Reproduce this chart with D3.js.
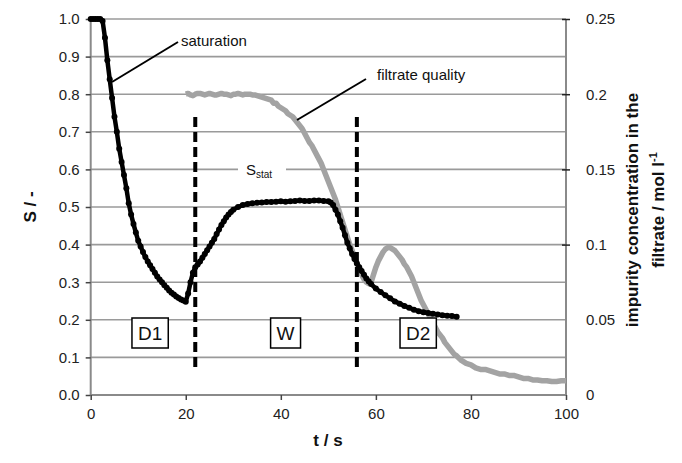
<!DOCTYPE html>
<html><head><meta charset="utf-8">
<script src="https://cdn.jsdelivr.net/npm/d3@7"></script>
<style>
html,body{margin:0;padding:0;background:#fff;}
svg{display:block;font-family:"Liberation Sans",Arial,sans-serif;}
</style></head>
<body><svg id="c" width="682" height="463"></svg>
<script>
// ---- data ----
const satT = [0,0.5,1,1.5,2,2.5,3,3.5,4,4.5,5,5.5,6,6.5,7,7.5,8,8.5,9,9.5,10,10.5,11,11.5,12,12.5,13,13.5,14,14.5,15,15.5,16,16.5,17,17.5,18,18.5,19,19.5,20,20.5,21,21.5,22,22.5,23,23.5,24,24.5,25,25.5,26,26.5,27,27.5,28,28.5,29,29.5,30,31,32,33,34,35,36,37,38,39,40,41,42,43,44,45,46,47,48,49,50,50.5,51,51.5,52,52.5,53,53.5,54,54.5,55,55.5,56,56.5,57,57.5,58,58.5,59,60,61,62,63,64,65,66,67,68,69,70,71,72,73,74,75,76,77];
const satS = [1.0,1.0,1.0,1.0,1.0,0.995,0.95,0.89,0.84,0.79,0.74,0.70,0.655,0.62,0.585,0.55,0.51,0.48,0.455,0.432,0.41,0.395,0.38,0.367,0.355,0.345,0.335,0.325,0.315,0.307,0.30,0.292,0.285,0.278,0.272,0.267,0.262,0.258,0.254,0.251,0.248,0.27,0.30,0.325,0.34,0.347,0.355,0.365,0.375,0.385,0.395,0.405,0.415,0.428,0.44,0.452,0.462,0.472,0.48,0.487,0.493,0.50,0.505,0.508,0.51,0.511,0.512,0.513,0.513,0.514,0.515,0.514,0.515,0.516,0.517,0.516,0.516,0.517,0.517,0.516,0.515,0.512,0.505,0.493,0.48,0.462,0.445,0.425,0.405,0.39,0.375,0.362,0.35,0.34,0.33,0.32,0.31,0.302,0.295,0.283,0.274,0.265,0.257,0.249,0.243,0.237,0.232,0.227,0.223,0.220,0.218,0.216,0.214,0.212,0.211,0.210,0.208];

const impT = [20,20.5,21,21.5,22,22.5,23,23.5,24,24.5,25,25.5,26,26.5,27,27.5,28,28.5,29,29.5,30,30.5,31,31.5,32,32.5,33,33.5,34,34.5,35,35.5,36,36.5,37,37.5,38,38.5,39,39.5,40,40.5,41,41.5,42,42.5,43,43.5,44,44.5,45,45.5,46,46.5,47,47.5,48,48.5,49,49.5,50,50.5,51,51.5,52,52.5,53,53.5,54,54.5,55,55.5,56,56.5,57,57.5,58,58.5,59,59.5,60,60.5,61,61.5,62,62.5,63,63.5,64,64.5,65,65.5,66,66.5,67,67.5,68,68.5,69,69.5,70,70.5,71,71.5,72,72.5,73,73.5,74,74.5,75,75.5,76,76.5,77,78,79,80,81,82,83,84,85,86,87,88,89,90,91,92,93,94,95,96,97,98,99,100];
const impC = [0.200,0.2005,0.1995,0.199,0.200,0.2005,0.2005,0.200,0.1995,0.2,0.2005,0.200,0.1995,0.1995,0.200,0.2005,0.2,0.2,0.1995,0.199,0.200,0.200,0.2005,0.200,0.1995,0.200,0.2,0.2,0.1995,0.1995,0.199,0.1985,0.198,0.1975,0.197,0.1965,0.196,0.194,0.194,0.192,0.191,0.190,0.189,0.187,0.186,0.185,0.183,0.181,0.179,0.177,0.174,0.171,0.168,0.166,0.163,0.160,0.157,0.154,0.150,0.146,0.142,0.138,0.134,0.130,0.125,0.120,0.115,0.110,0.105,0.100,0.096,0.092,0.088,0.084,0.080,0.077,0.075,0.074,0.075,0.080,0.085,0.089,0.092,0.095,0.097,0.098,0.098,0.097,0.096,0.094,0.092,0.090,0.087,0.085,0.082,0.079,0.075,0.071,0.067,0.063,0.060,0.057,0.054,0.051,0.048,0.045,0.042,0.040,0.038,0.035,0.033,0.031,0.029,0.027,0.026,0.023,0.021,0.020,0.018,0.017,0.017,0.016,0.015,0.014,0.014,0.013,0.013,0.012,0.011,0.011,0.010,0.010,0.0095,0.0095,0.009,0.009,0.0095,0.0095];

const leftTicks = [0,0.1,0.2,0.3,0.4,0.5,0.6,0.7,0.8,0.9,1.0];
const rightTicks = [0,0.05,0.1,0.15,0.2,0.25];
const xTicks = [0,20,40,60,80,100];
const phaseLines = [22,56];
const phaseBoxes = [{label:"D1",t:12.5},{label:"W",t:41},{label:"D2",t:68.9}];

// ---- layout ----
const svg = d3.select("#c");
const L = 90.7, R = 566, T = 19, B = 395;
const x = d3.scaleLinear().domain([0,100]).range([L,R]);
const y = d3.scaleLinear().domain([0,1]).range([B,T]);
const y2 = d3.scaleLinear().domain([0,0.25]).range([B,T]);
const gridC = "#9a9a9a", axisC = "#8a8a8a";

// gridlines
svg.append("g").selectAll("line").data(leftTicks.filter(d=>d>0)).join("line")
  .attr("x1",L).attr("x2",R).attr("y1",d=>y(d)).attr("y2",d=>y(d))
  .attr("stroke",gridC).attr("stroke-width",1.6);

// S_stat label gap
svg.append("rect").attr("x",238).attr("y",y(0.6)-3).attr("width",48).attr("height",6).attr("fill","#fff");
const st = svg.append("text").attr("x",246).attr("y",y(0.6)+6).attr("font-size",15).attr("fill","#111");
st.append("tspan").text("S");
st.append("tspan").attr("font-size",10).attr("dy",3).text("stat");

// axes
const gl = svg.append("g").attr("transform",`translate(${L},0)`)
  .call(d3.axisLeft(y).tickValues(leftTicks).tickFormat(d3.format(".1f")).tickSize(5).tickPadding(6));
const gb = svg.append("g").attr("transform",`translate(0,${B})`)
  .call(d3.axisBottom(x).tickValues(xTicks).tickFormat(d3.format("d")).tickSize(5).tickPadding(8));
const gr = svg.append("g").attr("transform",`translate(${R},0)`)
  .call(d3.axisRight(y2).tickValues(rightTicks).tickFormat(d=>d===0?"0":String(d)).tickSize(4).tickPadding(16));
[gl,gb,gr].forEach(g=>{
  g.select(".domain").attr("stroke",axisC).attr("stroke-width",2);
  g.selectAll(".tick line").attr("stroke","#444").attr("stroke-width",1.5);
  g.selectAll(".tick text").attr("font-size",15).attr("fill","#222").attr("font-family","Liberation Sans, Arial, sans-serif");
});
gl.select(".domain").attr("d",`M0,${B}V${T}`);
gb.select(".domain").attr("d",`M${L},0H${R}`);
gr.select(".domain").attr("d",`M0,${B}V${T}`);
gr.selectAll(".tick line").attr("x1",-4).attr("x2",4).attr("stroke","#222");
gr.selectAll(".tick").filter(d=>d===0||d===0.05).select("line").remove();

// filtrate quality (gray)
const impData = impT.map((t,i)=>[t,impC[i]]);
svg.append("path").datum(impData)
  .attr("d",d3.line().x(d=>x(d[0])).y(d=>y2(d[1])))
  .attr("fill","none").attr("stroke","#a3a3a3").attr("stroke-width",5.5).attr("stroke-linejoin","round");

// saturation (black)
const satData = satT.map((t,i)=>[t,satS[i]]);
svg.append("path").datum(satData)
  .attr("d",d3.line().x(d=>x(d[0])).y(d=>y(d[1])))
  .attr("fill","none").attr("stroke","#000").attr("stroke-width",4.5).attr("stroke-linejoin","round");
svg.append("g").selectAll("circle").data(satData).join("circle")
  .attr("cx",d=>x(d[0])).attr("cy",d=>y(d[1])).attr("r",3).attr("fill","#000");

// phase dashed lines
svg.append("g").selectAll("line").data(phaseLines).join("line")
  .attr("x1",d=>x(d)).attr("x2",d=>x(d)).attr("y1",117).attr("y2",367)
  .attr("stroke","#000").attr("stroke-width",4).attr("stroke-dasharray","10,5");

// phase boxes
const pb = svg.append("g").selectAll("g").data(phaseBoxes).join("g");
pb.each(function(d){
  const g = d3.select(this);
  const t = g.append("text").attr("x",x(d.t)).attr("y",340).attr("text-anchor","middle")
    .attr("font-size",19).attr("fill","#111").text(d.label);
  const w = t.node().getComputedTextLength()+12;
  g.insert("rect","text").attr("x",x(d.t)-w/2).attr("y",318).attr("width",w).attr("height",30)
    .attr("fill","#fff").attr("stroke","#000").attr("stroke-width",1.5);
});

// annotations
svg.append("line").attr("x1",112).attr("y1",82).attr("x2",178).attr("y2",42).attr("stroke","#000").attr("stroke-width",2);
svg.append("text").attr("x",181).attr("y",46).attr("font-size",15).attr("fill","#111").text("saturation");
svg.append("line").attr("x1",297).attr("y1",120).attr("x2",366).attr("y2",79).attr("stroke","#000").attr("stroke-width",2);
svg.append("text").attr("x",377).attr("y",80).attr("font-size",15).attr("fill","#111").text("filtrate quality");

// axis titles
svg.append("text").attr("transform","translate(36,207) rotate(-90)").attr("text-anchor","middle")
  .attr("font-size",17).attr("font-weight","bold").attr("fill","#111").text("S / -");
svg.append("text").attr("x",328).attr("y",446).attr("text-anchor","middle")
  .attr("font-size",17).attr("font-weight","bold").attr("fill","#111").text("t / s");
svg.append("text").attr("transform","translate(638,210) rotate(-90)").attr("text-anchor","middle")
  .attr("font-size",17).attr("font-weight","bold").attr("fill","#111").text("impurity concentration in the");
const t2 = svg.append("text").attr("transform","translate(664,210) rotate(-90)").attr("text-anchor","middle")
  .attr("font-size",17).attr("font-weight","bold").attr("fill","#111");
t2.append("tspan").text("filtrate / mol l");
t2.append("tspan").attr("font-size",11).attr("dy",-7).text("-1");
</script></body></html>
